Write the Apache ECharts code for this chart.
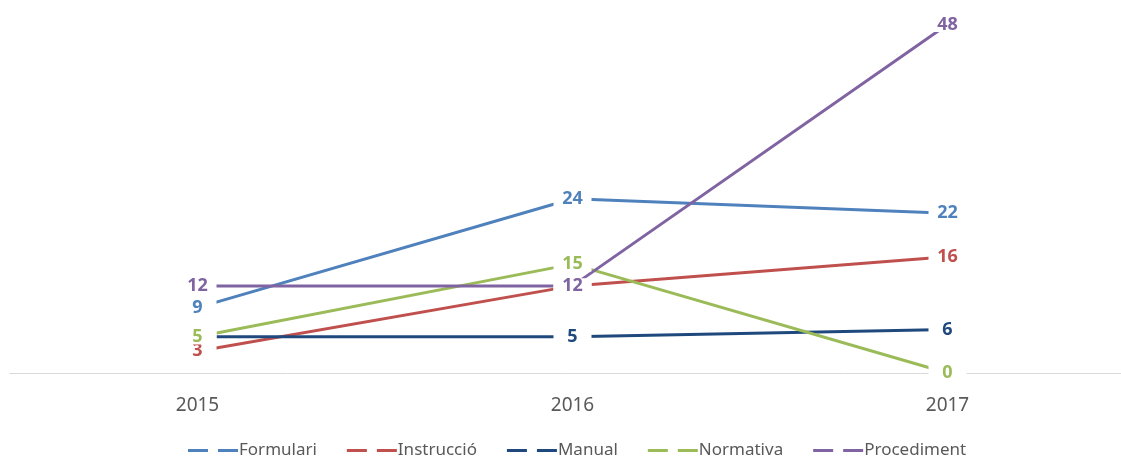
<!DOCTYPE html>
<html>
<head>
<meta charset="utf-8">
<style>
  html, body { margin: 0; padding: 0; background: #fff; }
  #chart { width: 1121px; height: 457px; }
</style>
<script src="https://cdn.jsdelivr.net/npm/echarts@6/dist/echarts.min.js"></script>
</head>
<body>
<div id="chart"></div>
<script>
// Documents per type and year
const years = ['2015', '2016', '2017'];
const formulari = [9, 24, 22];
const instruccio = [3, 12, 16];
const manual = [5, 5, 6];
const normativa = [5, 15, 0];
const procediment = [12, 12, 48];

const seriesDefs = [
  { name: 'Formulari', data: formulari, color: '#4f81bd' },
  { name: 'Instrucció', data: instruccio, color: '#c0504d' },
  { name: 'Manual', data: manual, color: '#1f497d' },
  { name: 'Normativa', data: normativa, color: '#9bbb59' },
  { name: 'Procediment', data: procediment, color: '#8064a2' }
];

const FONT = '"Noto Sans", "Open Sans", sans-serif';
const dashIcon = 'path://M0,0h20v3h-20zM30,0h20v3h-20z';

const chart = echarts.init(document.getElementById('chart'), null, { renderer: 'canvas' });

chart.setOption({
  animation: false,
  backgroundColor: '#fff',
  grid: [
    // plotting area: year points span from the first to the last category
    { left: 197.5, right: 173.5, top: 10, bottom: 84 },
    // full-width baseline under the plot
    { left: 10, right: 0, top: 10, bottom: 84 }
  ],
  xAxis: [
    {
      type: 'category',
      gridIndex: 0,
      data: years,
      boundaryGap: false,
      axisLine: { show: false },
      axisTick: { show: false },
      axisLabel: { color: '#595959', fontSize: 19, fontFamily: FONT, margin: 23 },
      splitLine: { show: false }
    },
    {
      type: 'value',
      gridIndex: 1,
      min: 0,
      max: 1,
      axisLine: { show: true, lineStyle: { color: '#d9d9d9', width: 1 } },
      axisTick: { show: false },
      axisLabel: { show: false },
      splitLine: { show: false }
    }
  ],
  yAxis: [
    { type: 'value', gridIndex: 0, min: 0, max: 50, show: false, splitLine: { show: false } },
    { type: 'value', gridIndex: 1, min: 0, max: 50, show: false, splitLine: { show: false } }
  ],
  legend: {
    left: 183,
    top: 437,
    itemWidth: 50,
    itemHeight: 3,
    itemGap: 30,
    textStyle: { color: '#595959', fontSize: 17, fontFamily: FONT, padding: [0, 0, 0, -4] },
    data: seriesDefs.map(s => ({ name: s.name, icon: dashIcon }))
  },
  series: seriesDefs.map(s => ({
    name: s.name,
    type: 'line',
    xAxisIndex: 0,
    yAxisIndex: 0,
    data: s.data,
    color: s.color,
    symbol: 'circle',
    symbolSize: 1,
    lineStyle: { width: 3, color: s.color },
    itemStyle: { color: s.color },
    emphasis: { disabled: true },
    label: {
      show: true,
      position: 'inside',
      color: s.color,
      fontSize: 18,
      fontWeight: 'bold',
      fontFamily: FONT,
      backgroundColor: '#fff',
      width: 38,
      height: 15,
      lineHeight: 15,
      align: 'center',
      verticalAlign: 'middle'
    }
  }))
});
</script>
</body>
</html>
